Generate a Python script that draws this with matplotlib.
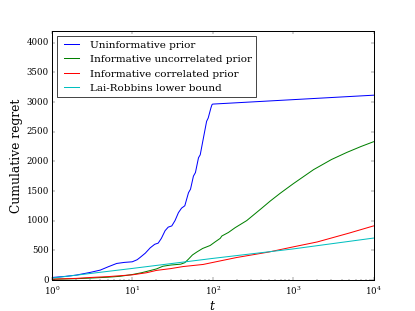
import matplotlib
matplotlib.use("Agg")
import matplotlib.pyplot as plt

# readings from the reference
t_uninf = [1, 1.5, 2, 3, 4, 5, 6.4, 8, 10, 11.5, 12.5, 14.5, 16.7, 19, 21, 23,
           25.6, 28, 31, 34, 37.5, 41, 45, 50, 53, 57.6, 61, 66.6, 70, 76, 84,
           88, 95, 98, 100, 1000, 10000]
v_uninf = [40, 60, 80, 126, 165, 220, 277, 295, 305, 340, 378, 450, 540, 600,
           620, 700, 830, 890, 910, 1000, 1134, 1210, 1250, 1470, 1530, 1750,
           1810, 2060, 2110, 2366, 2674, 2731, 2900, 2955, 2965, 3040, 3115]

t_uncorr = [1, 2, 3, 5, 7, 10, 13, 17, 20, 24, 30, 40, 45, 50, 56, 63.5, 75, 93,
            107, 124, 130, 157, 190, 265, 400, 520, 690, 1000, 1800, 3000, 4660,
            7000, 10000]
v_uncorr = [10, 20, 30, 45, 60, 90, 120, 160, 185, 230, 250, 265, 290, 350, 420,
            470, 530, 580, 640, 700, 740, 800, 880, 1000, 1200, 1330, 1460, 1620,
            1860, 2030, 2150, 2250, 2330]

t_corr = [1, 2, 3, 5, 10, 15, 20, 30, 43, 76, 124, 200, 500, 920, 2000, 5000, 10000]
v_corr = [12, 25, 40, 55, 85, 120, 160, 190, 225, 260, 320, 378, 470, 546, 640, 790, 910]

t_lai = [1, 10, 100, 1000, 10000]
v_lai = [30, 193, 362, 522, 705]

plt.style.use("classic")
plt.rcParams["font.family"] = "serif"
plt.rcParams["font.serif"] = ["DejaVu Serif"]
plt.rcParams["mathtext.fontset"] = "dejavuserif"
plt.rcParams["lines.linewidth"] = 1.4
plt.rcParams["axes.linewidth"] = 1.4

fig = plt.figure(figsize=(8, 6))
ax = fig.add_subplot(111)

ax.plot(t_uninf, v_uninf, color="b", label="Uninformative prior")
ax.plot(t_uncorr, v_uncorr, color="g", label="Informative uncorrelated prior")
ax.plot(t_corr, v_corr, color="r", label="Informative correlated prior")
ax.plot(t_lai, v_lai, color="c", label="Lai-Robbins lower bound")

ax.set_xscale("log")
ax.set_xlim(1, 1e4)
ax.set_ylim(0, 4200)
ax.set_yticks(range(0, 4001, 500))
ax.tick_params(axis="x", which="major", pad=6)
ax.set_xlabel("$t$", fontsize=17)
ax.set_ylabel("Cumulative regret", fontsize=17)
ax.legend(loc="upper left")

fig.savefig("out.png", dpi=415 / 8)
